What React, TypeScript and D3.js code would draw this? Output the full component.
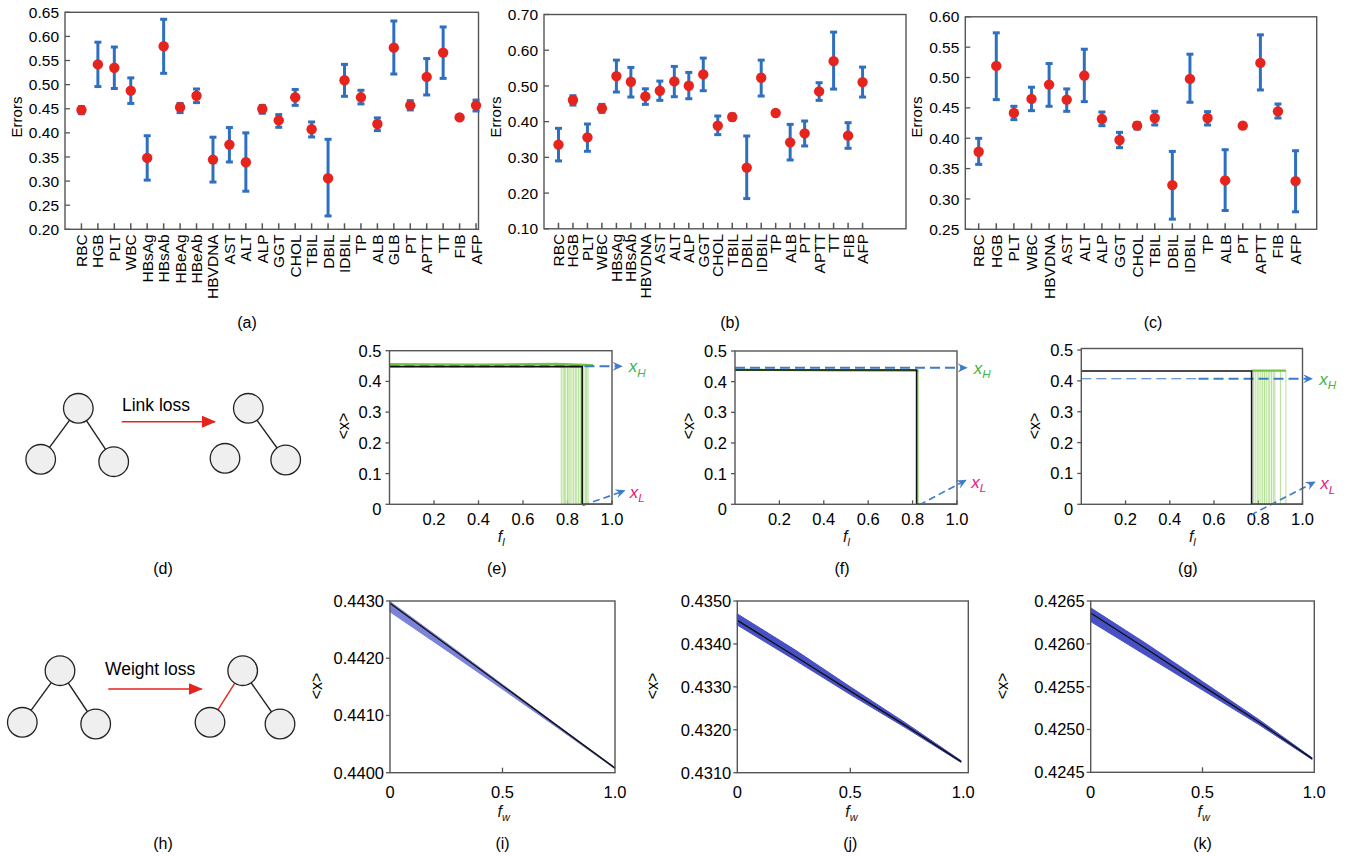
import React from "react";
import * as d3 from "d3";

const FONT = '"Liberation Sans", Arial, Helvetica, sans-serif';
const RED = "#e5241e";
const BLUE = "#2f6fbf";
const DASHBLUE = "#3d7ccc";
const GREEN_TXT = "#3fb44a";
const MAGENTA = "#e6187e";
const FRAME = "#555";

// ---------------- Panel (a) ----------------
const catsA = ["RBC","HGB","PLT","WBC","HBsAg","HBsAb","HBeAg","HBeAb","HBVDNA","AST","ALT","ALP","GGT","CHOL","TBIL","DBIL","IDBIL","TP","ALB","GLB","PT","APTT","TT","FIB","AFP"];
const meanA = [0.4475,0.542,0.535,0.4876,0.348,0.5795,0.453,0.477,0.3445,0.3756,0.339,0.4495,0.426,0.4737,0.4074,0.3058,0.509,0.4737,0.4184,0.5767,0.457,0.516,0.5664,0.432,0.457];
const lowA = [0.4399,0.496,0.492,0.461,0.302,0.5235,0.442,0.4627,0.298,0.3396,0.279,0.4406,0.4115,0.457,0.3915,0.2277,0.4758,0.460,0.4046,0.522,0.4475,0.4786,0.513,0.429,0.4454];
const highA = [0.4544,0.588,0.578,0.514,0.394,0.6355,0.461,0.491,0.391,0.411,0.400,0.457,0.4378,0.490,0.4226,0.3866,0.542,0.4883,0.431,0.632,0.4668,0.554,0.6196,0.435,0.468];
const ticksA = [0.20,0.25,0.30,0.35,0.40,0.45,0.50,0.55,0.60,0.65];

// ---------------- Panel (b) ----------------
const catsB = ["RBC","HGB","PLT","WBC","HBsAg","HBsAb","HBVDNA","AST","ALT","ALP","GGT","CHOL","TBIL","DBIL","IDBIL","TP","ALB","PT","APTT","TT","FIB","AFP"];
const meanB = [0.3356,0.4605,0.356,0.4372,0.5276,0.5117,0.4707,0.4866,0.5127,0.5006,0.5322,0.3887,0.413,0.2713,0.5229,0.4241,0.342,0.3673,0.4847,0.5695,0.3608,0.5108];
const lowB = [0.290,0.4465,0.317,0.426,0.483,0.469,0.4484,0.4596,0.4698,0.4642,0.4866,0.3636,0.4046,0.1846,0.4717,0.421,0.2927,0.3319,0.4596,0.4912,0.3254,0.4689];
const highB = [0.3813,0.4726,0.3934,0.4484,0.5723,0.5518,0.492,0.5136,0.5546,0.5378,0.578,0.4158,0.4213,0.3598,0.5723,0.4272,0.3924,0.4018,0.509,0.6506,0.3971,0.5527];
const ticksB = [0.10,0.20,0.30,0.40,0.50,0.60,0.70];

// ---------------- Panel (c) ----------------
const catsC = ["RBC","HGB","PLT","WBC","HBVDNA","AST","ALT","ALP","GGT","CHOL","TBIL","DBIL","IDBIL","TP","ALB","PT","APTT","FIB","AFP"];
const meanC = [0.3778,0.5191,0.4416,0.4647,0.4883,0.4636,0.5032,0.4317,0.397,0.4207,0.4333,0.3228,0.4977,0.4333,0.3305,0.4207,0.5241,0.4443,0.3294];
const lowC = [0.3569,0.4636,0.4306,0.4454,0.4526,0.4443,0.4603,0.4207,0.3844,0.4152,0.4218,0.2667,0.4592,0.4218,0.281,0.418,0.4795,0.4333,0.2788];
const highC = [0.3998,0.5736,0.4526,0.484,0.523,0.4812,0.5466,0.4432,0.4097,0.4256,0.4443,0.3783,0.5384,0.4438,0.3811,0.4235,0.5703,0.4564,0.3794];
const ticksC = [0.25,0.30,0.35,0.40,0.45,0.50,0.55,0.60];

// ---------------- Row 2: link loss (e,f,g) ----------------
const fTicks = [0.2,0.4,0.6,0.8,1.0];
const xTicks2 = [0,0.1,0.2,0.3,0.4,0.5];

const blackE = [[0,0.448],[0.866,0.448],[0.866,0],[1,0]];
const greenE = [[0,0.456],[0.4,0.455],[0.75,0.457],[0.915,0.453]];
const greenDropsE = [0.772,0.78,0.786,0.792,0.80,0.806,0.812,0.82,0.828,0.835,0.842,0.85,0.858,0.865,0.873,0.88,0.886,0.892];
const xHE = 0.449;
const xLE = [[0.868,-0.004],[1.044,0.041]];

const blackF = [[0,0.438],[0.818,0.438],[0.818,0],[1,0]];
const greenF = [[0,0.439],[0.45,0.437],[0.826,0.436]];
const greenDropsF = [0.822,0.826];
const xHF = 0.445;
const xLF = [[0.83,-0.002],[1.028,0.074]];

const blackG = [[0,0.432],[0.77,0.432],[0.77,0],[1,0]];
const greenG = [[0.77,0.433],[0.925,0.433]];
const greenDropsG = [0.778,0.786,0.795,0.803,0.812,0.82,0.828,0.836,0.845,0.852,0.86,0.868,0.875,0.9,0.925];
const xHG = 0.407;
const xLG = [[0.765,-0.035],[1.044,0.068]];

// ---------------- Row 3: weight loss (i,j,k) ----------------
const fwI = [0,0.25,0.5,0.75,1.0];
const meanI = [0.44296,0.44224,0.44152,0.44080,0.44008];
const loI = [0.44281,0.44214,0.44146,0.44077,0.44007];
const hiI = [0.44299,0.44227,0.44154,0.44081,0.44009];
const ticksI = [0.4400,0.4410,0.4420,0.4430];

const fwJ = [0,0.25,0.5,0.75,0.99];
const meanJ = [0.43455,0.43373,0.43290,0.43208,0.43126];
const loJ = [0.43444,0.43364,0.43282,0.43203,0.43124];
const hiJ = [0.43470,0.43388,0.43300,0.43214,0.43128];
const ticksJ = [0.4310,0.4320,0.4330,0.4340,0.4350];

const fwK = [0,0.25,0.5,0.75,0.99];
const meanK = [0.42636,0.42594,0.42551,0.42509,0.42466];
const loK = [0.42626,0.42586,0.42546,0.42506,0.42465];
const hiK = [0.42642,0.42600,0.42556,0.42512,0.42467];
const ticksK = [0.4245,0.4250,0.4255,0.4260,0.4265];
const fwTicks = [0,0.5,1.0];

type Box = { l: number; r: number; t: number; b: number };

function ErrPanel(p: {
  cats: string[]; mean: number[]; lo: number[]; hi: number[];
  box: Box; xDom: [number, number]; yDom: [number, number]; yTicks: number[];
  tag: string; tagX: number;
}) {
  const { box } = p;
  const x = d3.scaleLinear().domain(p.xDom).range([box.l, box.r]);
  const y = d3.scaleLinear().domain(p.yDom).range([box.b, box.t]);
  return (
    <g>
      {p.yTicks.map((t) => (
        <g key={"y" + t}>
          <line x1={box.l} x2={box.l + 5} y1={y(t)} y2={y(t)} stroke={FRAME} strokeWidth={1.3} />
          <text x={box.l - 6} y={y(t)} dy="0.36em" textAnchor="end" fontSize={15.5}>{t.toFixed(2)}</text>
        </g>
      ))}
      {p.cats.map((c, i) => (
        <g key={"x" + c}>
          <line x1={x(i + 1)} x2={x(i + 1)} y1={box.b} y2={box.b - 6} stroke={FRAME} strokeWidth={1.5} />
          <text transform={`translate(${x(i + 1) + 5.5},${box.b + 5}) rotate(-90)`} textAnchor="end" fontSize={15.5}>{c}</text>
        </g>
      ))}
      <rect x={box.l} y={box.t} width={box.r - box.l} height={box.b - box.t} fill="none" stroke={FRAME} strokeWidth={1.4} />
      {p.cats.map((c, i) => {
        const cx = x(i + 1);
        return (
          <g key={"e" + c} stroke={BLUE} strokeWidth={3}>
            <line x1={cx} x2={cx} y1={y(p.lo[i])} y2={y(p.hi[i])} />
            <line x1={cx - 3.5} x2={cx + 3.5} y1={y(p.lo[i])} y2={y(p.lo[i])} />
            <line x1={cx - 3.5} x2={cx + 3.5} y1={y(p.hi[i])} y2={y(p.hi[i])} />
          </g>
        );
      })}
      {p.cats.map((c, i) => (
        <circle key={"d" + c} cx={x(i + 1)} cy={y(p.mean[i])} r={5.2} fill={RED} />
      ))}
      <text transform={`translate(${box.l - 43},117) rotate(-90)`} textAnchor="middle" fontSize={15}>Errors</text>
      <text x={p.tagX} y={328} textAnchor="middle" fontSize={16}>{p.tag}</text>
    </g>
  );
}

function Sub(p: { x: number; y: number; main: string; sub: string; color: string; size?: number; anchor?: string }) {
  const s = p.size ?? 17;
  return (
    <text x={p.x} y={p.y} fill={p.color} fontSize={s} textAnchor={p.anchor ?? "start"}>
      <tspan fontStyle="italic">{p.main}</tspan>
      <tspan fontStyle="italic" fontSize={s * 0.68} dy={s * 0.25}>{p.sub}</tspan>
    </text>
  );
}

function StepPanel(p: {
  box: Box; yMax: number; black: number[][]; green: number[][]; drops: number[];
  greenLevel: number; xH: number; xL: number[][]; tag: string; split?: number;
}) {
  const { box } = p;
  const x = d3.scaleLinear().domain([0, 1]).range([box.l, box.r]);
  const y = d3.scaleLinear().domain([0, p.yMax]).range([box.b, box.t]);
  const line = d3.line<number[]>().x((d) => x(d[0])).y((d) => y(d[1]));
  const cx = (box.l + box.r) / 2;
  const tipH = x(1.044);
  return (
    <g>
      {xTicks2.map((t) => (
        <g key={"y" + t}>
          <line x1={box.l - 4} x2={box.l} y1={y(t)} y2={y(t)} stroke={FRAME} strokeWidth={1.3} />
          <text x={box.l - 8} y={y(t) + (t === 0 ? 5 : 0)} dy="0.36em" textAnchor="end" fontSize={16.5}>{t === 0 ? "0" : t.toFixed(1)}</text>
        </g>
      ))}
      {fTicks.map((t) => (
        <g key={"x" + t}>
          <line x1={x(t)} x2={x(t)} y1={box.b} y2={box.b - 4} stroke={FRAME} strokeWidth={1.3} />
          <text x={x(t)} y={525} textAnchor="middle" fontSize={16.5}>{t.toFixed(1)}</text>
        </g>
      ))}
      {p.drops.map((d, i) => (
        <path key={"g" + i} d={line([[d, p.greenLevel], [d, 0]]) || ""} stroke="#a9dc86" strokeWidth={0.9} fill="none" />
      ))}
      <path d={line(p.green) || ""} stroke="#74c447" strokeWidth={2.2} fill="none" />
      {p.split !== undefined ? (
        <g>
          <path d={line([[0, p.xH], [p.split, p.xH]]) || ""} stroke={DASHBLUE} strokeWidth={1.1} strokeDasharray="10 5" fill="none" />
          <line x1={x(p.split)} x2={tipH - 3} y1={y(p.xH)} y2={y(p.xH)} stroke={DASHBLUE} strokeWidth={2.2} strokeDasharray="10 5" markerEnd="url(#bArrow)" />
        </g>
      ) : (
        <line x1={box.l} x2={tipH - 3} y1={y(p.xH)} y2={y(p.xH)} stroke={DASHBLUE} strokeWidth={2} strokeDasharray="10 5" markerEnd="url(#bArrow)" />
      )}
      <path d={line(p.black) || ""} stroke="#111" strokeWidth={1.6} fill="none" />
      <line x1={x(p.xL[0][0])} y1={y(p.xL[0][1])} x2={x(p.xL[1][0])} y2={y(p.xL[1][1])} stroke={DASHBLUE} strokeWidth={1.6} strokeDasharray="7 4" markerEnd="url(#bArrow)" />
      <rect x={box.l} y={box.t} width={box.r - box.l} height={box.b - box.t} fill="none" stroke={FRAME} strokeWidth={1.4} />
      <Sub x={tipH + 7} y={y(p.xH) + 6} main="x" sub="H" color={GREEN_TXT} />
      <Sub x={x(p.xL[1][0]) + 8} y={y(p.xL[1][1]) + 6} main="x" sub="L" color={MAGENTA} />
      <text transform={`translate(${box.l - 41},426) rotate(-90)`} textAnchor="middle" fontSize={16}>&lt;x&gt;</text>
      <Sub x={cx - 3} y={542} main="f" sub="l" color="#111" size={16} />
      <text x={cx - 4} y={574} textAnchor="middle" fontSize={16}>{p.tag}</text>
    </g>
  );
}

function WPanel(p: {
  box: Box; xMax: number; yDom: [number, number]; yTicks: number[];
  fw: number[]; mean: number[]; lo: number[]; hi: number[]; tag: string; bandColor: string; labelX: number;
}) {
  const { box } = p;
  const x = d3.scaleLinear().domain([0, p.xMax]).range([box.l, box.r]);
  const y = d3.scaleLinear().domain(p.yDom).range([box.b, box.t]);
  const area = d3.area<number>().x((_, i) => x(p.fw[i])).y0((_, i) => y(p.lo[i])).y1((_, i) => y(p.hi[i]));
  const line = d3.line<number>().x((_, i) => x(p.fw[i])).y((d) => y(d));
  const cx = x(0.5);
  return (
    <g>
      {p.yTicks.map((t) => (
        <g key={"y" + t}>
          <line x1={box.l - 4} x2={box.l} y1={y(t)} y2={y(t)} stroke={FRAME} strokeWidth={1.3} />
          <text x={box.l - 6} y={y(t)} dy="0.36em" textAnchor="end" fontSize={16.5}>{t.toFixed(4)}</text>
        </g>
      ))}
      {fwTicks.map((t) => (
        <g key={"x" + t}>
          {t > 0 && t < 1 ? <line x1={x(t)} x2={x(t)} y1={box.b} y2={box.b - 5} stroke={FRAME} strokeWidth={1.3} /> : null}
          <text x={x(t)} y={797.5} textAnchor="middle" fontSize={16.5}>{t === 0 ? "0" : t.toFixed(1)}</text>
        </g>
      ))}
      <path d={area(p.mean) || ""} fill={p.bandColor} stroke={p.bandColor} strokeWidth={1} />
      <path d={line(p.mean) || ""} stroke="#111" strokeWidth={1.4} fill="none" />
      <rect x={box.l} y={box.t} width={box.r - box.l} height={box.b - box.t} fill="none" stroke={FRAME} strokeWidth={1.4} />
      <text transform={`translate(${p.labelX + 5},686) rotate(-90)`} textAnchor="middle" fontSize={16}>&lt;x&gt;</text>
      <Sub x={cx - 5} y={817} main="f" sub="w" color="#111" size={16} />
      <text x={cx} y={849} textAnchor="middle" fontSize={16}>{p.tag}</text>
    </g>
  );
}

function Tree(p: { nodes: number[][]; links: { a: number; b: number; color: string }[] }) {
  return (
    <g>
      {p.links.map((l, i) => (
        <line key={i} x1={p.nodes[l.a][0]} y1={p.nodes[l.a][1]} x2={p.nodes[l.b][0]} y2={p.nodes[l.b][1]} stroke={l.color} strokeWidth={1.4} />
      ))}
      {p.nodes.map((n, i) => (
        <circle key={i} cx={n[0]} cy={n[1]} r={14.8} fill="#efefef" stroke="#222" strokeWidth={1.3} />
      ))}
    </g>
  );
}

export default function App() {
  return (
    <svg width={1352} height={856} viewBox="0 0 1352 856" style={{ position: "absolute", left: 0, top: 0, display: "block", background: "#fff" }} fontFamily={FONT}>
      <defs>
        <marker id="bArrow" viewBox="0 0 10 10" refX="6" refY="5" markerWidth="10" markerHeight="10" markerUnits="userSpaceOnUse" orient="auto">
          <path d="M0,0.5 L10,5 L0,9.5 L3.5,5 Z" fill={DASHBLUE} />
        </marker>
        <marker id="rArrow" viewBox="0 0 14 12" refX="13" refY="6" markerWidth="14" markerHeight="12" markerUnits="userSpaceOnUse" orient="auto">
          <path d="M0,0 L14,6 L0,12 Z" fill={RED} />
        </marker>
      </defs>
      <rect x={0} y={0} width={1352} height={856} fill="#fff" />

      <ErrPanel cats={catsA} mean={meanA} lo={lowA} hi={highA} box={{ l: 65, r: 478.5, t: 12.3, b: 229.3 }} xDom={[0, 25.15]} yDom={[0.2, 0.65]} yTicks={ticksA} tag="(a)" tagX={247} />
      <ErrPanel cats={catsB} mean={meanB} lo={lowB} hi={highB} box={{ l: 544, r: 906, t: 14.5, b: 228.8 }} xDom={[0, 25]} yDom={[0.1, 0.7]} yTicks={ticksB} tag="(b)" tagX={730} />
      <ErrPanel cats={catsC} mean={meanC} lo={lowC} hi={highC} box={{ l: 965.3, r: 1316.7, t: 16.8, b: 229.3 }} xDom={[0.24, 20.2]} yDom={[0.25, 0.6]} yTicks={ticksC} tag="(c)" tagX={1153} />

      {/* (d) link loss diagram */}
      <Tree nodes={[[78.3, 408.3], [40.7, 459.3], [113.7, 461.7]]} links={[{ a: 0, b: 1, color: "#222" }, { a: 0, b: 2, color: "#222" }]} />
      <line x1={121.7} y1={421.7} x2={215} y2={421.7} stroke={RED} strokeWidth={1.5} markerEnd="url(#rArrow)" />
      <text x={122} y={411} fontSize={17.5}>Link loss</text>
      <Tree nodes={[[248.3, 408.3], [225, 458.3], [285.7, 460]]} links={[{ a: 0, b: 2, color: "#222" }]} />
      <text x={163} y={574} textAnchor="middle" fontSize={16}>(d)</text>

      <StepPanel box={{ l: 389.5, r: 612, t: 350.7, b: 504.3 }} yMax={0.5} black={blackE} green={greenE} drops={greenDropsE} greenLevel={0.455} xH={xHE} xL={xLE} tag="(e)" />
      <StepPanel box={{ l: 735, r: 957, t: 351, b: 504.3 }} yMax={0.5} black={blackF} green={greenF} drops={greenDropsF} greenLevel={0.437} xH={xHF} xL={xLF} tag="(f)" />
      <StepPanel box={{ l: 1081.3, r: 1302.5, t: 348.5, b: 504.3 }} yMax={0.505} black={blackG} green={greenG} drops={greenDropsG} greenLevel={0.433} xH={xHG} xL={xLG} tag="(g)" split={0.53} />

      {/* (h) weight loss diagram */}
      <Tree nodes={[[60, 670.7], [22.3, 722.3], [95.7, 724]]} links={[{ a: 0, b: 1, color: "#222" }, { a: 0, b: 2, color: "#222" }]} />
      <line x1={108.3} y1={689} x2={201.7} y2={689} stroke={RED} strokeWidth={1.5} markerEnd="url(#rArrow)" />
      <text x={105} y={675} fontSize={17.5}>Weight loss</text>
      <Tree nodes={[[242.7, 670.7], [210, 722.3], [280, 724]]} links={[{ a: 0, b: 1, color: RED }, { a: 0, b: 2, color: "#222" }]} />
      <text x={163} y={849} textAnchor="middle" fontSize={16}>(h)</text>

      <WPanel box={{ l: 390, r: 615, t: 601, b: 772.7 }} xMax={1} yDom={[0.44, 0.443]} yTicks={ticksI} fw={fwI} mean={meanI} lo={loI} hi={hiI} tag="(i)" bandColor="#7a82da" labelX={317} />
      <WPanel box={{ l: 737.3, r: 968.3, t: 601, b: 772.7 }} xMax={1.022} yDom={[0.431, 0.435]} yTicks={ticksJ} fw={fwJ} mean={meanJ} lo={loJ} hi={hiJ} tag="(j)" bandColor="#4750c4" labelX={653} />
      <WPanel box={{ l: 1090.7, r: 1314.3, t: 601, b: 772.3 }} xMax={1} yDom={[0.4245, 0.4265]} yTicks={ticksK} fw={fwK} mean={meanK} lo={loK} hi={hiK} tag="(k)" bandColor="#4750c4" labelX={1003} />
    </svg>
  );
}
